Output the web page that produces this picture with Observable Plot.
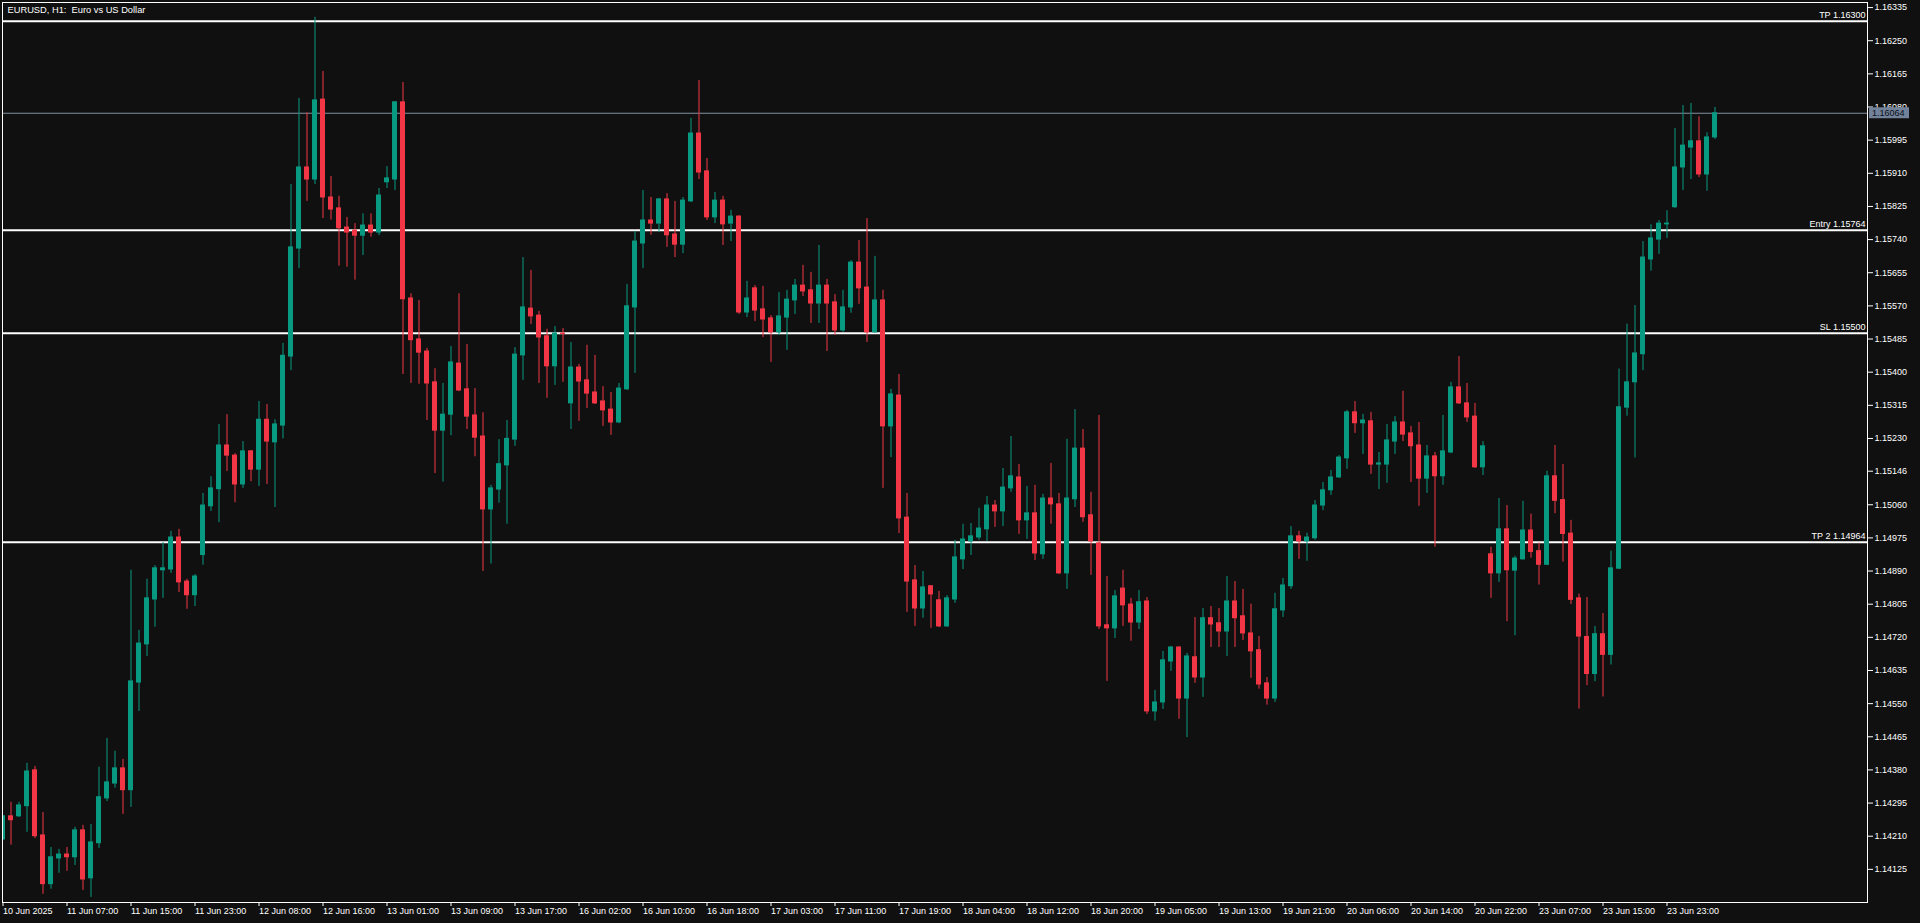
<!DOCTYPE html>
<html><head><meta charset="utf-8">
<script src="https://cdn.jsdelivr.net/npm/d3@7"></script>
<script src="https://cdn.jsdelivr.net/npm/@observablehq/plot@0.6"></script>
<style>
html,body{margin:0;padding:0;background:#101010;overflow:hidden}
#chart svg{display:block}
</style></head><body><div id="chart"></div>
<script>
const title = "EURUSD, H1:  Euro vs US Dollar";

const opens = [
1.14202,1.14261,1.14261,1.14287,1.14379,1.14212,1.14087,1.14153,1.14163,1.14156,
1.14225,1.14102,1.14192,1.14307,1.14345,1.14384,1.14328,1.14604,1.14702,1.14817,
1.14892,1.14894,1.14976,1.14863,1.14828,1.14931,1.15056,1.15100,1.15212,1.15186,
1.15112,1.15197,1.15150,1.15278,1.15220,1.15263,1.15440,1.15717,1.15925,1.15894,
1.16099,1.15848,1.15820,1.15771,1.15763,1.15750,1.15776,1.15758,1.15887,1.15894,
1.16092,1.15589,1.15484,1.15453,1.15374,1.15250,1.15291,1.15422,1.15356,1.15289,
1.15235,1.15048,1.15099,1.15161,1.15227,1.15443,1.15563,1.15545,1.15492,1.15415,
1.15499,1.15320,1.15412,1.15379,1.15348,1.15325,1.15304,1.15271,1.15356,1.15566,
1.15730,1.15789,1.15781,1.15843,1.15753,1.15727,1.15838,1.16012,1.15915,1.15797,
1.15840,1.15781,1.15799,1.15553,1.15615,1.15561,1.15538,1.15502,1.15540,1.15584,
1.15622,1.15610,1.15576,1.15622,1.15579,1.15507,1.15566,1.15681,1.15617,1.15502,
1.15584,1.15261,1.15340,1.15027,1.14866,1.14794,1.14851,1.14815,1.14748,1.14817,
1.14920,1.14966,1.14976,1.14997,1.15058,1.15043,1.15102,1.15130,1.15020,1.15038,
1.14933,1.15076,1.15061,1.14884,1.15074,1.15204,1.15033,1.14961,1.14751,1.14743,
1.14845,1.14804,1.14758,1.14812,1.14530,1.14553,1.14658,1.14694,1.14563,1.14669,
1.14617,1.14769,1.14756,1.14735,1.14812,1.14774,1.14730,1.14687,1.14602,1.14563,
1.14789,1.14851,1.14979,1.14966,1.14974,1.15058,1.15097,1.15130,1.15179,1.15297,
1.15269,1.15274,1.15163,1.15163,1.15222,1.15271,1.15243,1.15212,1.15127,1.15184,
1.15133,1.15194,1.15361,1.15320,1.15286,1.15156,1.14933,1.14884,1.14997,1.14891,
1.14920,1.14994,1.14941,1.14906,1.15133,1.15072,1.14986,1.14820,1.14721,1.14626,
1.14728,1.14675,1.14896,1.15309,1.15374,1.15446,1.15689,1.15740,1.15779,1.15823,
1.15925,1.15976,1.15992,1.15907,1.16002];

const highs = [
1.14263,1.14297,1.14297,1.14397,1.14389,1.14271,1.14181,1.14176,1.14181,1.14233,
1.14238,1.14240,1.14387,1.14461,1.14428,1.14407,1.14892,1.14738,1.14869,1.14904,
1.14963,1.14992,1.14997,1.14869,1.14881,1.15089,1.15132,1.15266,1.15291,1.15191,
1.15222,1.15199,1.15325,1.15317,1.15278,1.15474,1.15881,1.16102,1.16065,1.16310,
1.16171,1.15902,1.15851,1.15797,1.15781,1.15806,1.15806,1.15871,1.15927,1.16094,
1.16143,1.15601,1.15584,1.15461,1.15409,1.15371,1.15466,1.15601,1.15471,1.15358,
1.15296,1.15110,1.15227,1.15276,1.15463,1.15694,1.15661,1.15556,1.15510,1.15517,
1.15512,1.15476,1.15420,1.15469,1.15443,1.15363,1.15348,1.15371,1.15625,1.15761,
1.15866,1.15848,1.15845,1.15858,1.15838,1.15848,1.16051,1.16148,1.15948,1.15861,
1.15851,1.15815,1.15801,1.15633,1.15622,1.15620,1.15545,1.15604,1.15610,1.15638,
1.15674,1.15656,1.15725,1.15638,1.15599,1.15610,1.15686,1.15738,1.15794,1.15697,
1.15610,1.15356,1.15394,1.15089,1.14904,1.14889,1.14853,1.14838,1.14827,1.14969,
1.15010,1.15012,1.15051,1.15081,1.15071,1.15153,1.15235,1.15163,1.15107,1.15110,
1.15087,1.15166,1.15089,1.15228,1.15304,1.15253,1.15092,1.15289,1.14876,1.14840,
1.14892,1.14820,1.14840,1.14822,1.14584,1.14684,1.14696,1.14696,1.14679,1.14771,
1.14794,1.14799,1.14794,1.14876,1.14863,1.14843,1.14805,1.14722,1.14617,1.14833,
1.14871,1.15004,1.14992,1.14987,1.15071,1.15117,1.15148,1.15186,1.15302,1.15325,
1.15292,1.15297,1.15194,1.15266,1.15286,1.15351,1.15261,1.15271,1.15212,1.15194,
1.15289,1.15374,1.15440,1.15371,1.15320,1.15222,1.14951,1.15076,1.15058,1.14928,
1.15069,1.15036,1.14962,1.15146,1.15212,1.15163,1.15020,1.14831,1.14822,1.14748,
1.14781,1.14941,1.15408,1.15523,1.15571,1.15735,1.15778,1.15789,1.15814,1.16025,
1.16084,1.16089,1.16055,1.16014,1.16079];

const lows = [
1.14199,1.14187,1.14258,1.14220,1.14204,1.14061,1.14074,1.14115,1.14120,1.14135,
1.14071,1.14053,1.14179,1.14299,1.14333,1.14266,1.14284,1.14530,1.14671,1.14746,
1.14820,1.14884,1.14835,1.14792,1.14799,1.14905,1.15043,1.15014,1.15145,1.15065,
1.15102,1.15119,1.15107,1.15112,1.15053,1.15229,1.15404,1.15666,1.15838,1.15881,
1.15794,1.15790,1.15672,1.15669,1.15636,1.15699,1.15746,1.15750,1.15871,1.15866,
1.15394,1.15371,1.15369,1.15276,1.15140,1.15118,1.15237,1.15350,1.15253,1.15183,
1.14889,1.14908,1.15064,1.15010,1.15210,1.15379,1.15522,1.15371,1.15333,1.15366,
1.15374,1.15253,1.15274,1.15307,1.15317,1.15261,1.15238,1.15268,1.15353,1.15397,
1.15666,1.15751,1.15758,1.15720,1.15694,1.15704,1.15835,1.15894,1.15789,1.15781,
1.15725,1.15735,1.15548,1.15540,1.15530,1.15489,1.15425,1.15494,1.15456,1.15548,
1.15594,1.15525,1.15525,1.15453,1.15494,1.15502,1.15551,1.15574,1.15476,1.15500,
1.15102,1.15181,1.14986,1.14784,1.14748,1.14769,1.14743,1.14745,1.14746,1.14807,
1.14894,1.14930,1.14969,1.14966,1.15002,1.15004,1.15092,1.14984,1.14971,1.14917,
1.14920,1.15010,1.14881,1.14843,1.15053,1.15015,1.14879,1.14740,1.14607,1.14717,
1.14748,1.14710,1.14740,1.14522,1.14505,1.14535,1.14633,1.14510,1.14463,1.14602,
1.14566,1.14694,1.14694,1.14671,1.14694,1.14712,1.14615,1.14587,1.14546,1.14553,
1.14771,1.14843,1.14920,1.14915,1.14969,1.15045,1.15084,1.15128,1.15151,1.15243,
1.15189,1.15138,1.15099,1.15115,1.15189,1.15222,1.15117,1.15056,1.15089,1.14951,
1.15110,1.15191,1.15317,1.15271,1.15153,1.15135,1.14820,1.14861,1.14760,1.14724,
1.14918,1.14923,1.14854,1.14904,1.15037,1.14913,1.14804,1.14536,1.14596,1.14606,
1.14567,1.14649,1.14894,1.15287,1.15180,1.15404,1.15659,1.15702,1.15743,1.15820,
1.15866,1.15894,1.15899,1.15864,1.15997];

const closes = [
1.14261,1.14251,1.14289,1.14376,1.14210,1.14087,1.14156,1.14163,1.14156,1.14225,
1.14099,1.14194,1.14310,1.14348,1.14384,1.14328,1.14607,1.14704,1.14820,1.14897,
1.14897,1.14976,1.14861,1.14828,1.14876,1.15058,1.15102,1.15212,1.15186,1.15112,
1.15197,1.15150,1.15278,1.15222,1.15266,1.15442,1.15720,1.15925,1.15894,1.16097,
1.15848,1.15817,1.15769,1.15758,1.15750,1.15776,1.15758,1.15853,1.15897,1.16092,
1.15587,1.15482,1.15450,1.15371,1.15250,1.15291,1.15425,1.15353,1.15286,1.15232,
1.15048,1.15102,1.15164,1.15229,1.15445,1.15566,1.15543,1.15489,1.15415,1.15499,
1.15498,1.15412,1.15376,1.15345,1.15320,1.15302,1.15271,1.15358,1.15569,1.15735,
1.15789,1.15781,1.15843,1.15751,1.15727,1.15840,1.16012,1.15912,1.15797,1.15840,
1.15779,1.15799,1.15553,1.15589,1.15558,1.15535,1.15502,1.15543,1.15586,1.15622,
1.15607,1.15576,1.15622,1.15576,1.15507,1.15566,1.15681,1.15615,1.15502,1.15584,
1.15261,1.15343,1.15025,1.14863,1.14794,1.14848,1.14830,1.14748,1.14820,1.14925,
1.14971,1.14979,1.14999,1.15058,1.15043,1.15104,1.15133,1.15020,1.15038,1.14935,
1.15076,1.15061,1.14884,1.15076,1.15204,1.15028,1.14966,1.14748,1.14743,1.14825,
1.14802,1.14758,1.14810,1.14530,1.14553,1.14661,1.14694,1.14563,1.14671,1.14617,
1.14769,1.14753,1.14735,1.14812,1.14769,1.14730,1.14684,1.14599,1.14563,1.14792,
1.14853,1.14979,1.14966,1.14976,1.15058,1.15097,1.15130,1.15181,1.15297,1.15269,
1.15276,1.15163,1.15166,1.15225,1.15271,1.15240,1.15210,1.15127,1.15184,1.15133,
1.15197,1.15361,1.15320,1.15284,1.15156,1.15210,1.14884,1.14997,1.14892,1.14922,
1.14994,1.14939,1.14906,1.15133,1.15070,1.14985,1.14816,1.14722,1.14626,1.14728,
1.14675,1.14897,1.15310,1.15374,1.15448,1.15694,1.15743,1.15781,1.15781,1.15925,
1.15981,1.15992,1.15907,1.16002,1.16064];

const xTickLabels = ["10 Jun 2025","11 Jun 07:00","11 Jun 15:00","11 Jun 23:00","12 Jun 08:00","12 Jun 16:00",
"13 Jun 01:00","13 Jun 09:00","13 Jun 17:00","16 Jun 02:00","16 Jun 10:00","16 Jun 18:00","17 Jun 03:00",
"17 Jun 11:00","17 Jun 19:00","18 Jun 04:00","18 Jun 12:00","18 Jun 20:00","19 Jun 05:00","19 Jun 13:00",
"19 Jun 21:00","20 Jun 06:00","20 Jun 14:00","20 Jun 22:00","23 Jun 07:00","23 Jun 15:00","23 Jun 23:00"];
const barsPerXTick = 8;

const yTicks = [1.16335,1.16250,1.16165,1.16080,1.15995,1.15910,1.15825,1.15740,1.15655,1.15570,1.15485,
1.15400,1.15315,1.15230,1.15146,1.15060,1.14975,1.14890,1.14805,1.14720,1.14635,1.14550,1.14465,1.14380,
1.14295,1.14210,1.14125];

const levelNames = ["TP", "Entry", "SL", "TP 2"];
const levelPrices = [1.16300, 1.15764, 1.15500, 1.14964];
const lastPrice = 1.16064;

const GREEN = "#089981", RED = "#f23645", BG = "#101010", PRICE_LINE = "#8391a2";

const candles = opens.map((o, i) => ({i, o, h: highs[i], l: lows[i], c: closes[i], up: closes[i] >= o}));
const xTickIdx = xTickLabels.map((t, k) => k * barsPerXTick);
const xLabelOf = new Map(xTickIdx.map((v, k) => [v, xTickLabels[k]]));
const levels = levelNames.map((n, k) => ({price: levelPrices[k], text: n + " " + levelPrices[k].toFixed(5)}));

const chart = Plot.plot({
  width: 1920, height: 923,
  marginLeft: 2, marginTop: 2, marginRight: 53, marginBottom: 21,
  style: {background: BG, color: "#ffffff", fontFamily: "'Liberation Sans', Arial, sans-serif", fontSize: "9px"},
  x: {type: "linear", domain: [-0.0625, 233.0625], label: null},
  y: {domain: [1.14040, 1.16348], label: null},
  marks: [
    Plot.ruleY(levelPrices, {stroke: "#ffffff", strokeWidth: 2}),
    Plot.ruleY([lastPrice], {stroke: PRICE_LINE, strokeWidth: 1}),
    Plot.ruleX(candles, {x: "i", y1: "l", y2: "h", stroke: d => d.up ? GREEN : RED, clip: "frame"}),
    Plot.rect(candles, {x1: d => d.i - 0.3125, x2: d => d.i + 0.3125, y1: "o", y2: "c",
      fill: d => d.up ? GREEN : RED, insetTop: -0.5, insetBottom: -0.5, clip: "frame"}),
    Plot.frame({stroke: "#ffffff"}),
    Plot.axisY(yTicks, {anchor: "right", tickSize: 5, tickPadding: 2, stroke: "#ffffff", fill: "#ffffff",
      tickFormat: d => d.toFixed(5), fontSize: 9}),
    Plot.axisX(xTickIdx, {anchor: "bottom", tickSize: 4, tickPadding: 1, stroke: "#ffffff", fill: "#ffffff",
      tickFormat: d => xLabelOf.get(d), textAnchor: "start", fontSize: 9}),
    Plot.text(levels, {y: "price", text: "text", frameAnchor: "right", textAnchor: "end", lineAnchor: "middle",
      dx: -2, dy: -6, fill: "#ffffff", fontSize: 9}),
    Plot.text([title], {frameAnchor: "top-left", textAnchor: "start", lineAnchor: "middle", dx: 5, dy: 8,
      fill: "#ffffff", fontSize: 9.3})
  ]
});

// current price label box on the right axis, placed with the chart's own y scale
const yPos = chart.scale("y").apply(lastPrice);
const svg = d3.select(chart);
const g = svg.append("g");
g.append("rect").attr("x", 1869).attr("y", yPos - 5.5).attr("width", 40).attr("height", 11).attr("fill", "#71829a");
g.append("text").attr("x", 1872).attr("y", yPos).attr("dy", "0.35em").attr("fill", "#0c0f16")
  .attr("text-anchor", "start")
  .attr("font-size", 9).attr("font-family", "'Liberation Sans', Arial, sans-serif").text(lastPrice.toFixed(5));

document.getElementById("chart").append(chart);
</script>
</body></html>
